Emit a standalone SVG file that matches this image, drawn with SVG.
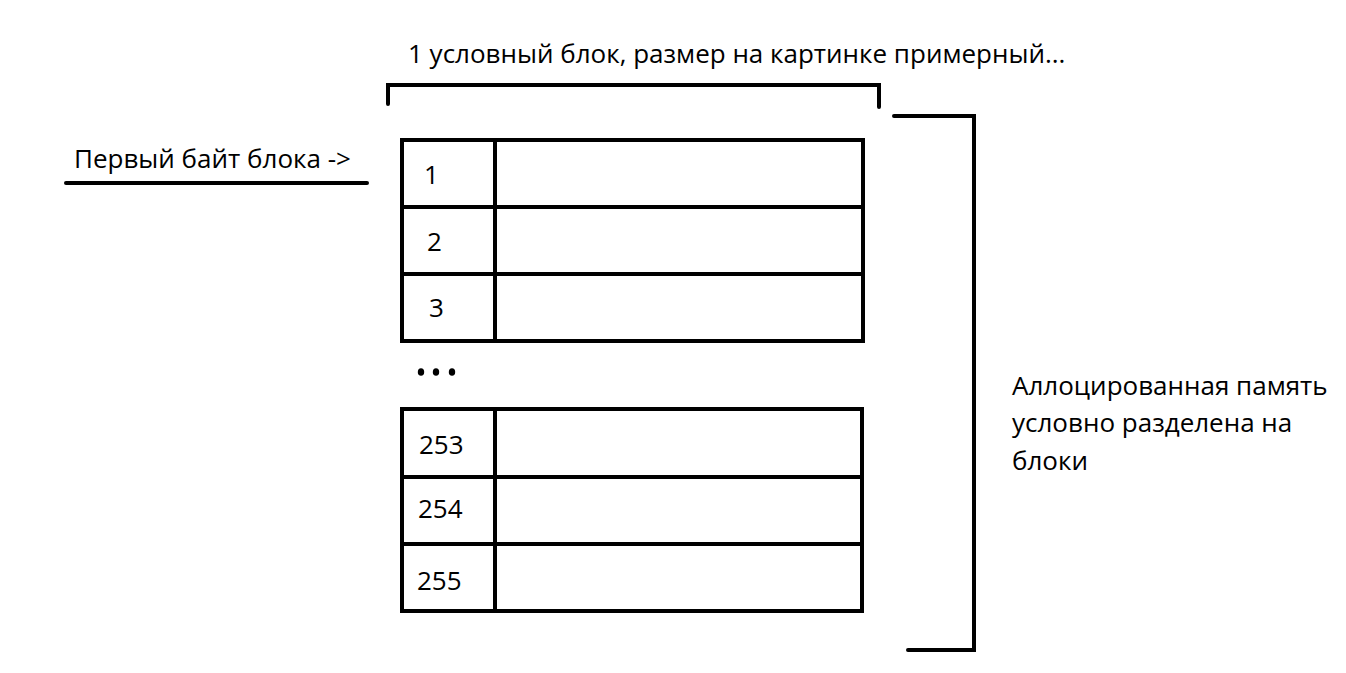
<svg xmlns="http://www.w3.org/2000/svg" width="1346" height="673" viewBox="0 0 1346 673">
<style>
.ln{fill:none;stroke:#000;stroke-width:4;stroke-linecap:round;stroke-linejoin:miter}
.cell{fill:#fff;stroke:#000;stroke-width:4}
.t{font-family:"Open Sans","Noto Sans","Liberation Sans",sans-serif;font-size:26px;fill:#000}
.n{font-family:"Open Sans","Noto Sans","Liberation Sans",sans-serif;font-size:26px;fill:#000}
</style>
<rect width="1346" height="673" fill="#fff"/>
<g id="connectors">
<path class="ln" d="M388,104 L388,85 L879,85 L879,107"/>
<path class="ln" d="M894,116 L974,116 L974,650 L908,650"/>
<path class="ln" d="M66,183 L367,183"/>
</g>
<g id="title"><text class="t" x="408" y="63">1 условный блок, размер на картинке примерный...</text></g>
<g id="first-byte"><text class="t" x="74" y="168">Первый байт блока -&gt;</text></g>
<g id="memory-label">
<text class="t" x="1012" y="395">Аллоцированная память</text>
<text class="t" x="1012" y="432">условно разделена на</text>
<text class="t" x="1012" y="470">блоки</text>
</g>
<g id="block-top">
<rect class="cell" x="402" y="140" width="461" height="201"/>
<path class="ln" d="M402,207 L863,207 M402,274 L863,274 M495,140 L495,341" stroke-linecap="butt"/>
<text class="n" x="424" y="184">1</text>
<text class="n" x="427" y="251">2</text>
<text class="n" x="429" y="317">3</text>
</g>
<g id="ellipsis">
<ellipse cx="421" cy="372" rx="3.2" ry="3.8"/>
<ellipse cx="436" cy="372" rx="3.2" ry="3.8"/>
<ellipse cx="452" cy="372" rx="3.2" ry="3.8"/>
</g>
<g id="block-bottom">
<rect class="cell" x="402" y="409" width="460" height="202"/>
<path class="ln" d="M402,477 L862,477 M402,544 L862,544 M495,409 L495,611" stroke-linecap="butt"/>
<text class="n" x="419" y="454">253</text>
<text class="n" x="418" y="518">254</text>
<text class="n" x="417" y="590">255</text>
</g>
</svg>
